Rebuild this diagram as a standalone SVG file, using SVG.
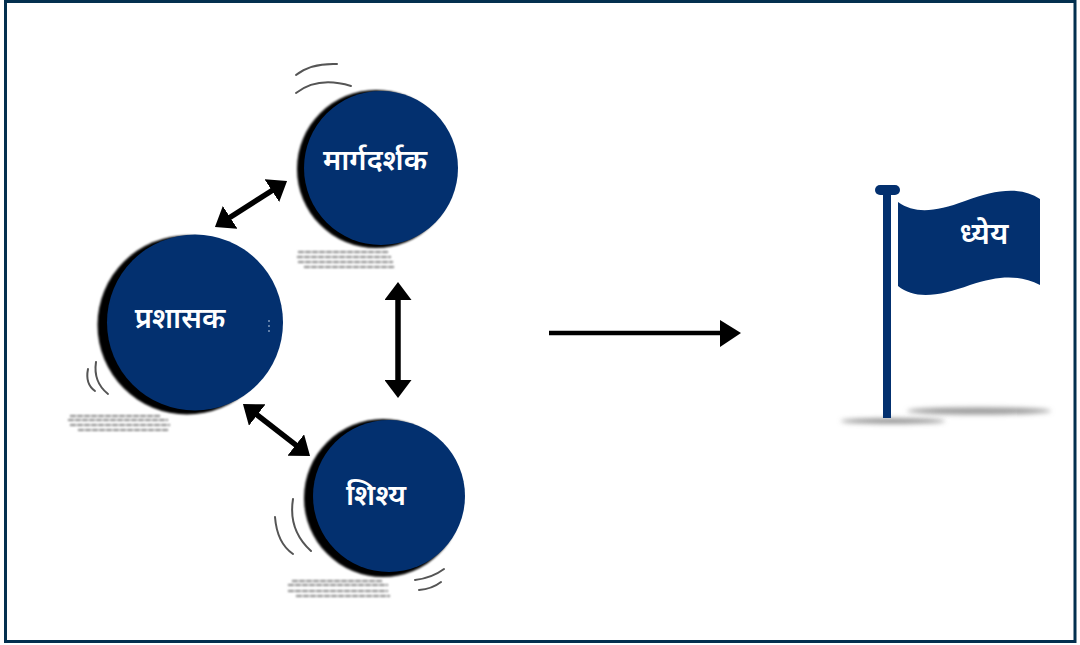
<svg xmlns="http://www.w3.org/2000/svg" width="1080" height="645" viewBox="0 0 1080 645">
<style>
.lbl{font-family:"Noto Sans","Liberation Sans",sans-serif;font-size:29px;font-weight:600;fill:#fff;text-anchor:middle}
.blue{fill:#03306f}
.blk{fill:#000;filter:url(#b1)}
.sw{fill:none;stroke:#555;stroke-width:2;stroke-linecap:round;filter:url(#b05)}
.tiny{stroke:#888;stroke-width:2;stroke-dasharray:6 1;filter:url(#b07);fill:none}
.arr{fill:none;stroke:#000;stroke-width:5.500;marker-start:url(#ah);marker-end:url(#ah)}
</style>
<defs>
<filter id="b05" x="-20%" y="-20%" width="140%" height="140%"><feGaussianBlur stdDeviation="0.6"/></filter>
<filter id="b07" x="-10%" y="-30%" width="120%" height="160%"><feGaussianBlur stdDeviation="0.8"/></filter>
<filter id="b1" x="-10%" y="-10%" width="120%" height="120%"><feGaussianBlur stdDeviation="0.8"/></filter>
<filter id="b3" x="-20%" y="-300%" width="140%" height="700%"><feGaussianBlur stdDeviation="2.800"/></filter>
<marker id="ah" markerUnits="userSpaceOnUse" markerWidth="18" markerHeight="27" refX="12" refY="13.500" orient="auto-start-reverse" viewBox="0 0 18 27"><path d="M0 0L18 13.500L0 27Z" fill="#000"/></marker>
</defs>
<rect x="0" y="0" width="1080" height="645" fill="#fff"/>
<path id="frame" d="M5.500 1.500H1075V641.500H5.500Z" fill="none" stroke="#03304f" stroke-width="3"/>
<g id="connectors">
<path class="arr" d="M220 223.800L282 184.200"/>
<path class="arr" d="M398 288V392"/>
<path class="arr" d="M247.700 407.700L305.300 452.300"/>
<path d="M549 333H728" fill="none" stroke="#000" stroke-width="4.500"/>
<path d="M720 320L741 333L720 347Z" fill="#000"/>
</g>
<g id="node-margdarshak">
<path class="sw" d="M296 75Q311 63 337 64M296 93Q318 76 351 86"/>
<circle class="blk" cx="376" cy="169" r="79"/>
<circle class="blue" cx="381" cy="168" r="77"/>
<text class="lbl" x="375" y="170">मार्गदर्शक</text>
<path class="tiny" d="M298 252H388M297 257H391M298 262H393M304 267H394"/>
</g>
<g id="node-prashasak">
<path class="sw" d="M88 369Q85 384 95 391M96 362Q93 382 108 394"/>
<circle class="blk" cx="187" cy="325" r="89.500"/>
<circle class="blue" cx="195" cy="322.500" r="88"/>
<text class="lbl" x="180" y="328">प्रशासक</text>
<path class="tiny" d="M70 416H160M68 420H168M70 425H170M78 430H168"/>
<path d="M269 320V333" stroke="#9fb4cf" stroke-width="1.200" stroke-dasharray="2 3" fill="none"/>
</g>
<g id="node-shishya">
<path class="sw" d="M275 517Q277 543 293 554M293 499Q288 530 311 551M415 580Q432 578 444 569M419 590Q432 589 441 582"/>
<circle class="blk" cx="383" cy="498" r="79"/>
<circle class="blue" cx="389" cy="496" r="76"/>
<text class="lbl" x="376" y="505">शिश्य</text>
<path class="tiny" d="M292 581H382M288 585H388M288 591H388M296 596H390"/>
</g>
<g id="node-dhyey">
<ellipse cx="893" cy="421" rx="52" ry="2.500" fill="#888" filter="url(#b3)"/>
<ellipse cx="979" cy="411" rx="72" ry="3.500" fill="#999" filter="url(#b3)"/>
<rect class="blue" x="883" y="190" width="8" height="228"/>
<rect class="blue" x="875" y="185" width="25" height="10" rx="5"/>
<path class="blue" d="M898 202C915 214 935 212 965 201C995 190 1020 186 1040 199V285C1020 275 1000 275 970 285C940 296 915 300 898 286Z"/>
<text class="lbl" x="984" y="244" style="font-size:30px">ध्येय</text>
</g>
</svg>
